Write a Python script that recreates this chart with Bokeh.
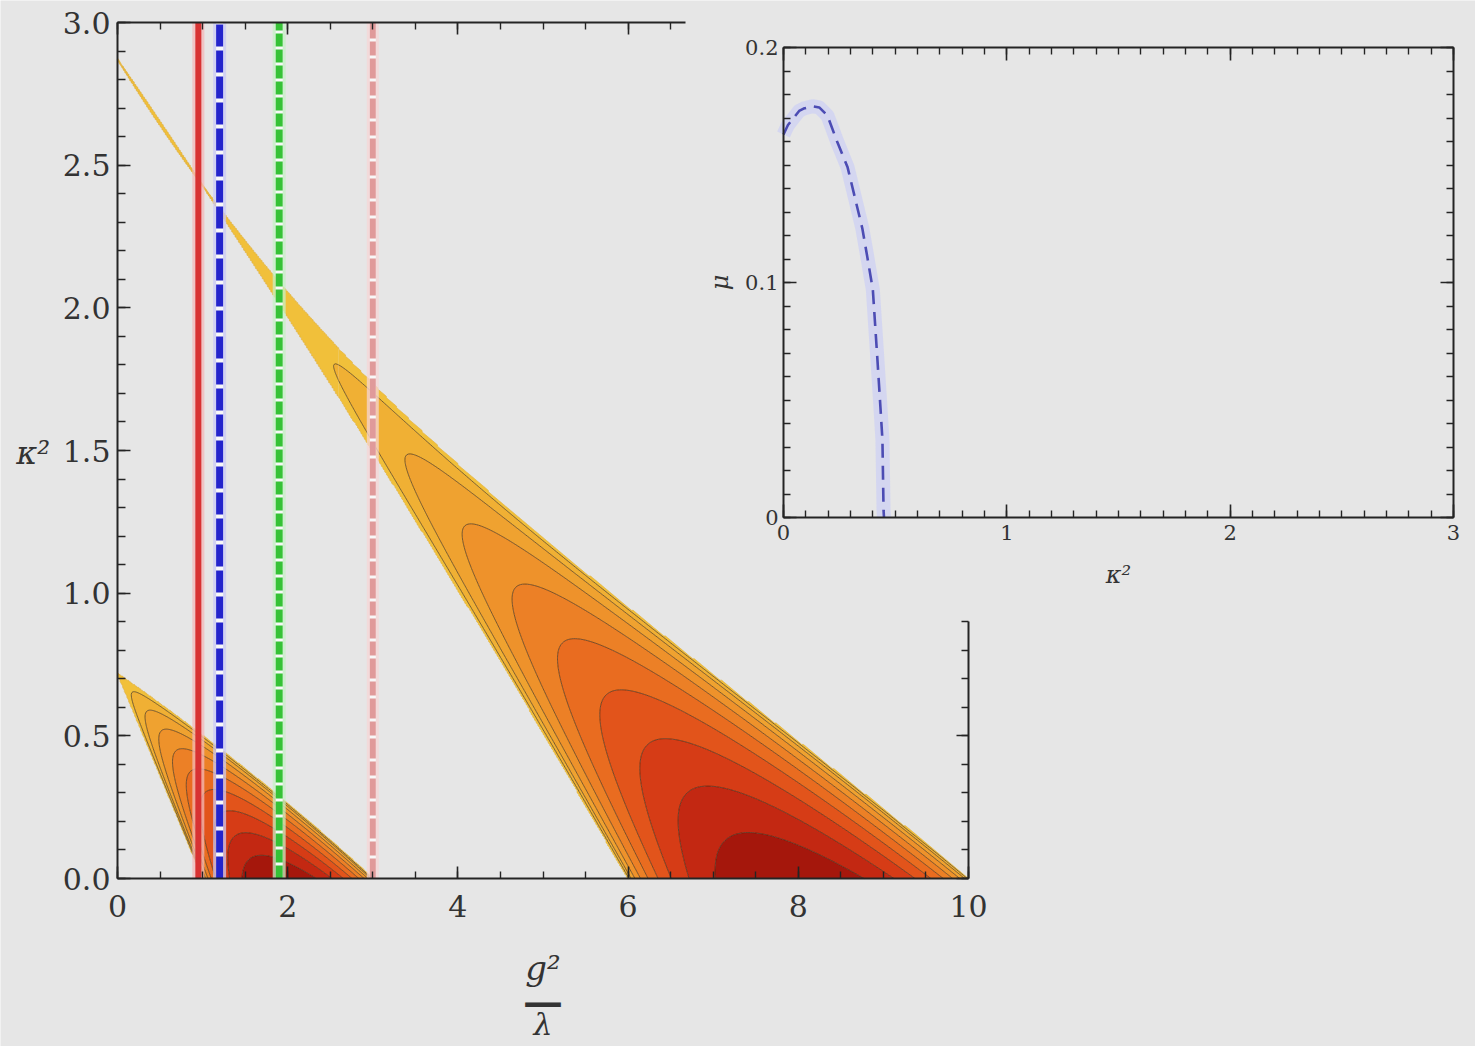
import numpy as np
from bokeh.embed import file_html
from bokeh.models import Label, LinearAxis, PrintfTickFormatter, Range1d, SingleIntervalTicker
from bokeh.plotting import figure
from bokeh.resources import INLINE

# ------------------------------------------------------------------
# values
# ------------------------------------------------------------------
# vertical cuts at fixed g^2/lambda
cut_g2 = [0.95, 1.2, 1.9, 3.0]
cut_colors = ["#d83232", "#2424cc", "#36c236", "#e09a9a"]
cut_halos = ["#f3b8b8", "#c9c9f5", "#c6f0c6", "#f5d6d6"]
cut_dashes = ["solid", "22 4", "13 3", "20 3 14 3"]
cut_widths = [6, 7, 7, 6]

# growth rate mu along the kappa^2 direction (inset)
inset_kappa2 = [0.0, 0.02, 0.045, 0.07, 0.09, 0.13, 0.16, 0.197, 0.24, 0.287, 0.32,
                0.353, 0.375, 0.40, 0.42, 0.434, 0.443, 0.448, 0.45]
inset_mu = [0.163, 0.167, 0.170, 0.173, 0.174, 0.175, 0.1745, 0.171, 0.160, 0.149, 0.136,
            0.123, 0.111, 0.097, 0.068, 0.047, 0.033, 0.003, 0.0]

# filled contour levels as fractions of each band's largest growth rate
contour_levels = [0.0005, 0.1, 0.2, 0.3, 0.4, 0.5, 0.6, 0.7, 0.8, 0.9, 1.01]
contour_fills = ["#f1c03a", "#f0b034", "#efa230", "#ee922b", "#ec8026",
                 "#e96c20", "#e2541b", "#d63c16", "#c32812", "#a5170c"]
contour_lines = ["#e2b240"] + ["#3c2a12"] * (len(contour_levels) - 1)

# ------------------------------------------------------------------
# Floquet exponent of  chi'' + (kappa^2 + (g^2/lambda) phi^2) chi = 0,
# with phi'' + phi^3 = 0, phi(0) = 1  (phi = cn(t, 1/sqrt 2))
# ------------------------------------------------------------------
a, b = 1.0, np.sqrt(0.5)
for _ in range(30):
    a, b = 0.5 * (a + b), np.sqrt(a * b)
period = np.pi / a          # 2K(1/sqrt 2), period of phi^2
n_steps = 100
step = period / n_steps

# background phi^2 sampled on half steps
bg2 = [1.0]
phi, dphi = 1.0, 0.0
sub = 8
hh = 0.5 * step / sub
for _ in range(2 * n_steps):
    for _ in range(sub):
        k1p, k1v = dphi, -phi ** 3
        k2p, k2v = dphi + 0.5 * hh * k1v, -(phi + 0.5 * hh * k1p) ** 3
        k3p, k3v = dphi + 0.5 * hh * k2v, -(phi + 0.5 * hh * k2p) ** 3
        k4p, k4v = dphi + hh * k3v, -(phi + hh * k3p) ** 3
        phi += hh / 6 * (k1p + 2 * k2p + 2 * k3p + k4p)
        dphi += hh / 6 * (k1v + 2 * k2v + 2 * k3v + k4v)
    bg2.append(phi * phi)


def growth_rate(q, k2):
    x = np.stack([np.ones_like(q), np.zeros_like(q)])
    v = np.stack([np.zeros_like(q), np.ones_like(q)])
    h = step
    for i in range(n_steps):
        w0 = k2 + q * bg2[2 * i]
        wm = k2 + q * bg2[2 * i + 1]
        w1 = k2 + q * bg2[2 * i + 2]
        av1 = -w0 * x
        x2 = x + 0.5 * h * v
        v2 = v + 0.5 * h * av1
        av2 = -wm * x2
        x3 = x + 0.5 * h * v2
        v3 = v + 0.5 * h * av2
        av3 = -wm * x3
        x4 = x + h * v3
        v4 = v + h * av3
        av4 = -w1 * x4
        x = x + h / 6 * (v + 2 * v2 + 2 * v3 + v4)
        v = v + h / 6 * (av1 + 2 * av2 + 2 * av3 + av4)
    tr = x[0] + v[1]
    mu = np.arccosh(np.maximum(np.abs(tr) / 2, 1.0)) / period
    return mu, tr


# three grids: first band, thin upper tongue of the second band, body of the second band
xa, ya = np.linspace(0.0, 3.2, 321), np.linspace(0.0, 0.8, 161)
xb, yb = np.linspace(0.0, 2.6, 131), np.linspace(1.6, 3.0, 701)
xc, yc = np.linspace(2.6, 10.0, 371), np.linspace(0.0, 1.9, 381)
grids = [np.meshgrid(xa, ya), np.meshgrid(xb, yb), np.meshgrid(xc, yc)]
q_all = np.concatenate([g[0].ravel() for g in grids])
k_all = np.concatenate([g[1].ravel() for g in grids])
mu_all, tr_all = growth_rate(q_all, k_all)

sizes = [g[0].size for g in grids]
cuts = np.cumsum([0] + sizes)
mu_a = mu_all[cuts[0]:cuts[1]].reshape(grids[0][0].shape)
mu_b = mu_all[cuts[1]:cuts[2]].reshape(grids[1][0].shape)
mu_c = mu_all[cuts[2]:cuts[3]].reshape(grids[2][0].shape)
tr_b = tr_all[cuts[1]:cuts[2]].reshape(grids[1][0].shape)
mu_c = np.where((grids[2][0] < 3.2) & (grids[2][1] < 0.5), 0.0, mu_c)

top_1 = mu_a.max()
top_2 = max(mu_b.max(), mu_c.max())
z_a, z_b, z_c = mu_a / top_1, mu_b / top_2, mu_c / top_2

# centre of the narrow tongue (where it is thinner than the grid)
ridge_cols = xb <= 2.3
ridge_y = yb[np.argmax(np.abs(tr_b), axis=0)][ridge_cols]
ridge_x = xb[ridge_cols]

# ------------------------------------------------------------------
# figure: one canvas, the main panel and the inset on separate ranges
# ------------------------------------------------------------------
BG = "#e6e6e6"
INK = "#242424"
TXT = "#333333"
SERIF = "DejaVu Serif"
W, H = 1475, 1046


def pixel_range(v0, p0, v1, p1, total):
    scale = (v1 - v0) / (p1 - p0)
    return Range1d(start=v0 - p0 * scale, end=v0 + (total - p0) * scale)


p = figure(width=W, height=H,
           x_range=pixel_range(0, 117, 10, 968, W),
           y_range=pixel_range(0, H - 878, 3, H - 22, H),
           x_axis_location=None, y_axis_location=None, min_border=0,
           toolbar_location=None, output_backend="svg",
           background_fill_color=BG, border_fill_color=BG, outline_line_color=None)
p.extra_x_ranges = {"ix": pixel_range(0, 783, 3, 1453, W)}
p.extra_y_ranges = {"iy": pixel_range(0, H - 517, 0.2, H - 47, H)}
p.grid.visible = False

# instability bands
p.line(ridge_x, ridge_y, line_color="#e6b84a", line_width=2)
for xs, ys, z in [(xa, ya, z_a), (xb, yb, z_b), (xc, yc, z_c)]:
    p.contour(x=xs, y=ys, z=z, levels=contour_levels, fill_color=contour_fills,
              line_color=contour_lines, line_width=1.0, line_alpha=0.65)

# vertical cuts
for g2, col, halo, dash, lw in zip(cut_g2, cut_colors, cut_halos, cut_dashes, cut_widths):
    p.segment(x0=[g2], y0=[0], x1=[g2], y1=[3], line_color=halo, line_width=lw + 6, line_alpha=0.75)
    if dash != "solid":
        p.segment(x0=[g2], y0=[0], x1=[g2], y1=[3], line_color="#f8f8f8", line_width=lw)
    p.segment(x0=[g2], y0=[0], x1=[g2], y1=[3], line_color=col, line_width=lw, line_dash=dash)

# inset curve
p.line(inset_kappa2, inset_mu, x_range_name="ix", y_range_name="iy",
       line_color="#d0d2f2", line_width=14, line_alpha=0.8, line_join="round")
p.line(inset_kappa2, inset_mu, x_range_name="ix", y_range_name="iy",
       line_color="#4c4cb4", line_width=2.6, line_dash="14 8", line_join="round")


def add_axis(side, loc, bounds, interval, minor, major_len, minor_len,
             xr="default", yr="default", size=None, standoff=8, fmt=None):
    ax = LinearAxis(fixed_location=loc, bounds=bounds, x_range_name=xr, y_range_name=yr,
                    ticker=SingleIntervalTicker(interval=interval, num_minor_ticks=minor))
    ax.major_tick_in, ax.major_tick_out = major_len, 0
    ax.minor_tick_in, ax.minor_tick_out = minor_len, 0
    ax.axis_line_color, ax.axis_line_width = INK, 2
    ax.major_tick_line_color, ax.major_tick_line_width = INK, 1.6
    ax.minor_tick_line_color, ax.minor_tick_line_width = INK, 1.4
    if size is None:
        ax.major_label_text_color = None
    else:
        ax.major_label_text_font = SERIF
        ax.major_label_text_font_size = size
        ax.major_label_text_color = TXT
        ax.major_label_standoff = standoff
    if fmt is not None:
        ax.formatter = PrintfTickFormatter(format=fmt)
    p.add_layout(ax, side)
    return ax


# main panel axes
add_axis("below", 0, (0, 10), 2, 4, 12, 7, size="30px", standoff=16)
add_axis("left", 0, (0, 3), 0.5, 5, 13, 8, size="30px", standoff=7, fmt="%.1f")
add_axis("above", 3, (0, 6.67), 2, 4, 12, 7)
add_axis("right", 10, (0, 0.9), 0.5, 5, 12, 7)

# inset axes
add_axis("below", 0, (0, 3), 1, 10, 13, 7, xr="ix", yr="iy", size="21px", standoff=7)
add_axis("left", 0, (0, 0.2), 0.1, 10, 13, 7, xr="ix", yr="iy", size="21px", standoff=5, fmt="%g")
add_axis("above", 0.2, (0, 3), 1, 10, 13, 7, xr="ix", yr="iy")
add_axis("right", 3, (0, 0.2), 0.1, 10, 13, 7, xr="ix", yr="iy")

# axis titles
common = dict(text_font=SERIF, text_color=TXT, text_align="center", text_baseline="middle")
p.add_layout(Label(x=-0.99, y=1.49, text="κ²", text_font_size="32px", text_font_style="italic", **common))
p.add_layout(Label(x=5.0, y=-0.315, text="g²", text_font_size="34px", text_font_style="italic", **common))
p.add_layout(Label(x=5.0, y=-0.428, text="—", text_font_size="40px", text_font_style="bold", **common))
p.add_layout(Label(x=5.0, y=-0.51, text="λ", text_font_size="30px", text_font_style="italic", **common))
p.add_layout(Label(x=1.5, y=-0.0245, x_range_name="ix", y_range_name="iy", text="κ²",
                   text_font_size="24px", text_font_style="italic", **common))
p.add_layout(Label(x=-0.285, y=0.1, x_range_name="ix", y_range_name="iy", text="μ", angle=np.pi / 2,
                   text_font_size="24px", text_font_style="italic", **common))

open("out.html", "w").write(file_html(p, INLINE))
